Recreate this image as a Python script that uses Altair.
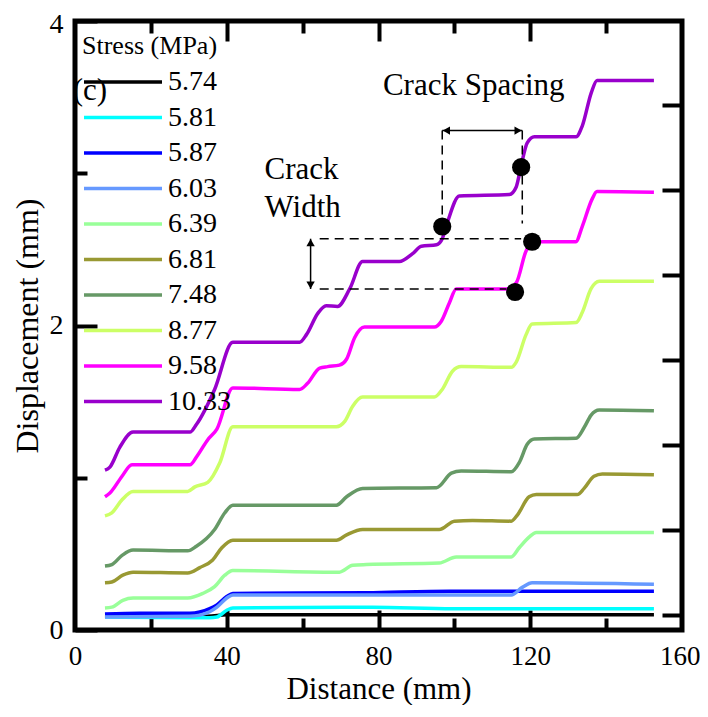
import altair as alt
import pandas as pd

W, H = 607, 609
FONT = "Liberation Serif"

stress = ["5.74", "5.81", "5.87", "6.03", "6.39", "6.81", "7.48", "8.77", "9.58", "10.33"]
colors = ["#000000", "#00FFFF", "#0000FF", "#6699FF", "#99FF99",
          "#999933", "#669966", "#CCFF66", "#FF00FF", "#9900CC"]

x_574 = [7.9, 35, 40, 152.6]
y_574 = [0.09, 0.09, 0.10, 0.10]
x_581 = [7.9, 35.5, 37.4, 40, 41.6, 78.4, 99.5, 152.6]
y_581 = [0.085, 0.08, 0.085, 0.13, 0.145, 0.15, 0.14, 0.14]
x_587 = [7.9, 17, 30.3, 35.5, 37.4, 40, 41.6, 76.8, 98.7, 152.6]
y_587 = [0.105, 0.11, 0.11, 0.14, 0.165, 0.22, 0.24, 0.245, 0.255, 0.255]
x_603 = [7.9, 30.3, 35.5, 37.4, 40, 41.6, 115, 117.9, 120.5, 152.6]
y_603 = [0.085, 0.09, 0.12, 0.15, 0.21, 0.23, 0.23, 0.28, 0.31, 0.30]
x_639 = [7.9, 9.7, 12.6, 15.3, 29.7, 33.7, 36.8, 39.5, 41.6, 69.7, 73.2, 76.8,
         96, 100.5, 104.8, 115, 117.1, 119.7, 121.6, 152.6]
y_639 = [0.145, 0.15, 0.195, 0.21, 0.21, 0.24, 0.285, 0.36, 0.39, 0.38, 0.425, 0.43,
         0.44, 0.48, 0.48, 0.48, 0.54, 0.61, 0.64, 0.64]
x_681 = [7.9, 9.7, 12.6, 15.3, 29.7, 32.9, 36.3, 38.7, 41.6, 68.9, 71.6, 75.8,
         96, 100, 104.8, 115, 116.6, 119.7, 121.6, 132.4, 134.2, 136.8, 139, 152.6]
y_681 = [0.31, 0.315, 0.36, 0.38, 0.375, 0.41, 0.46, 0.54, 0.59, 0.59, 0.625, 0.66,
         0.66, 0.715, 0.72, 0.715, 0.755, 0.875, 0.89, 0.89, 0.93, 1.01, 1.025, 1.02]
x_748 = [7.9, 9.7, 12.4, 15.3, 29.7, 32, 36.8, 39.5, 41.6, 68.9, 71.6, 75.8,
         95.3, 99.2, 101.8, 115, 117.1, 119.2, 121.1, 132.1, 134.2, 136, 138.2, 152.6]
y_748 = [0.42, 0.43, 0.49, 0.525, 0.52, 0.55, 0.66, 0.77, 0.82, 0.82, 0.875, 0.93,
         0.935, 1.03, 1.045, 1.04, 1.10, 1.22, 1.255, 1.26, 1.33, 1.41, 1.445, 1.44]
x_877 = [7.9, 9.7, 12.4, 15.3, 29.7, 31.6, 35, 38.2, 41.6, 68.9, 71.1, 73.2, 75.8,
         94.7, 96.8, 99.5, 101.8, 115, 116.3, 118.9, 120.5, 132.1, 133.7, 136, 138.2, 152.6]
y_877 = [0.75, 0.77, 0.855, 0.91, 0.91, 0.94, 0.97, 1.10, 1.335, 1.335, 1.37, 1.47, 1.53,
         1.53, 1.58, 1.70, 1.73, 1.725, 1.76, 1.94, 2.01, 2.02, 2.085, 2.24, 2.29, 2.29]
x_958 = [7.9, 9.2, 12.4, 15, 30.3, 32.1, 35, 37.4, 41.6, 59.2, 61.3, 64.5, 66.6, 69.7,
         71.6, 73.7, 76.3, 94.7, 96.6, 98.7, 100.5, 113.7, 116.3, 118.9, 121, 132,
         133.7, 136.3, 137.6, 152.6]
y_958 = [0.875, 0.90, 1.01, 1.085, 1.085, 1.14, 1.25, 1.32, 1.59, 1.58, 1.62, 1.72, 1.73, 1.74,
         1.78, 1.92, 1.99, 1.99, 2.03, 2.15, 2.24, 2.24, 2.28, 2.49, 2.55, 2.55,
         2.65, 2.83, 2.88, 2.875]
x_1033 = [7.9, 9.2, 11.8, 15.3, 30.3, 32, 36.8, 41.6, 59.2, 61, 64, 66.2, 69.2, 72.4,
          75.8, 85.5, 88.9, 91.3, 95.3, 96.8, 98.2, 101.3, 114.5, 116.3, 117.6, 119.2,
          121.1, 132.1, 133.7, 136.1, 137.6, 152.6]
y_1033 = [1.05, 1.07, 1.20, 1.30, 1.30, 1.35, 1.58, 1.89, 1.89, 1.94, 2.08, 2.13, 2.125, 2.24,
          2.42, 2.42, 2.47, 2.52, 2.53, 2.57, 2.68, 2.85, 2.86, 2.91, 3.05, 3.20,
          3.24, 3.24, 3.31, 3.53, 3.61, 3.61]

series_x = [x_574, x_581, x_587, x_603, x_639, x_681, x_748, x_877, x_958, x_1033]
series_y = [y_574, y_581, y_587, y_603, y_639, y_681, y_748, y_877, y_958, y_1033]

# annotation values (data units)
dot_x = [96.8, 117.6, 120.5, 116.0]
dot_y = [2.65, 3.04, 2.55, 2.22]
dash_x1 = [96.8, 117.9, 64.5, 64.5]
dash_x2 = [96.8, 117.9, 117.6, 113.7]
dash_y1 = [3.28, 3.28, 2.57, 2.24]
dash_y2 = [2.63, 2.67, 2.57, 2.24]
arrow_x1 = [96.8, 62.1]
arrow_x2 = [117.9, 62.1]
arrow_y1 = [3.28, 2.57]
arrow_y2 = [3.28, 2.24]
head_x = [97.9, 116.8, 62.1, 62.1]
head_y = [3.28, 3.28, 2.545, 2.265]
head_shape = ["triangle-left", "triangle-right", "triangle-up", "triangle-down"]
label_text = ["Crack Spacing", "Crack", "Width"]
label_x = [105.1, 59.7, 60.0]
label_y = [3.57, 3.02, 2.77]
panel_text = ["(c)"]
panel_x = [3.95]
panel_y = [3.54]

x_labels = [0, 40, 80, 120, 160]
x_minor = [20, 40, 60, 80, 100, 120, 140]
y_labels = [0, 2, 4]
y_minor = [0, 1, 2, 3, 4]
right_ticks = [0, 1, 2, 3, 4, 5, 6]
right_domain = [-0.1765, 6.988]

rows = []
for s, xs, ys in zip(stress, series_x, series_y):
    for i, (a, b) in enumerate(zip(xs, ys)):
        rows.append({"stress": s, "x": a, "y": b, "i": i})
df = pd.DataFrame(rows)

xs_main = alt.Scale(domain=[0, 160], nice=False, zero=False)
ys_main = alt.Scale(domain=[0, 4], nice=False, zero=False)

x_last_align = {"condition": {"test": "datum.value === 160", "value": "right"}, "value": "center"}
x_last_off = {"condition": {"test": "datum.value === 160", "value": 18}, "value": 0}
y_top_off = {"condition": {"test": "datum.value === 4", "value": 3}, "value": 0}

lines = alt.Chart(df).mark_line(strokeWidth=3.5, interpolate="monotone").encode(
    x=alt.X("x:Q", scale=xs_main,
            axis=alt.Axis(values=x_labels, ticks=False, domain=False, grid=False,
                          labelFont=FONT, labelFontSize=27, labelPadding=13,
                          labelFlush=False, labelAlign=x_last_align, labelOffset=x_last_off,
                          title="Distance (mm)", titleFont=FONT, titleFontSize=31,
                          titleFontWeight="normal",
                          titleBaseline="alphabetic", titleY=68)),
    y=alt.Y("y:Q", scale=ys_main,
            axis=alt.Axis(values=y_labels, ticks=False, domain=False, grid=False,
                          labelFont=FONT, labelFontSize=28, labelPadding=12,
                          labelFlush=False, labelOffset=y_top_off,
                          title="Displacement (mm)", titleFont=FONT, titleFontSize=32,
                          titleFontWeight="normal", titleBaseline="middle", titleX=-48)),
    color=alt.Color("stress:N", scale=alt.Scale(domain=stress, range=colors),
                    legend=alt.Legend(title="Stress (MPa)", orient="none", legendX=7,
                                      legendY=12, symbolType="stroke",
                                      symbolSize=78 * 78, symbolStrokeWidth=3.5,
                                      clipHeight=28, rowPadding=7.5, labelFontSize=28,
                                      labelFont=FONT, titleFont=FONT, titleFontSize=26,
                                      titleFontWeight="normal", titlePadding=9,
                                      labelOffset=4, padding=0, labelLimit=200,
                                      labelColor="black", titleColor="black")),
    detail="stress:N",
)

noax_x = alt.X("x:Q", scale=xs_main, axis=None)
noax_y = alt.Y("y:Q", scale=ys_main, axis=None)

dash_df = pd.DataFrame({"x": dash_x1, "x2": dash_x2, "y": dash_y1, "y2": dash_y2})
dashes = alt.Chart(dash_df).mark_rule(strokeDash=[9, 6], strokeWidth=1.5, color="black").encode(
    x=noax_x, x2="x2:Q", y=noax_y, y2="y2:Q")

arr_df = pd.DataFrame({"x": arrow_x1, "x2": arrow_x2, "y": arrow_y1, "y2": arrow_y2})
arrows = alt.Chart(arr_df).mark_rule(strokeWidth=1.5, color="black").encode(
    x=noax_x, x2="x2:Q", y=noax_y, y2="y2:Q")

head_df = pd.DataFrame({"x": head_x, "y": head_y, "shape": head_shape})
heads = alt.Chart(head_df).mark_point(filled=True, color="black", size=70, opacity=1).encode(
    x=noax_x, y=noax_y, shape=alt.Shape("shape:N", scale=None))

dot_df = pd.DataFrame({"x": dot_x, "y": dot_y})
dots = alt.Chart(dot_df).mark_circle(size=330, color="black", opacity=1).encode(
    x=noax_x, y=noax_y)

lab_df = pd.DataFrame({"x": label_x, "y": label_y, "t": label_text})
labels = alt.Chart(lab_df).mark_text(font=FONT, fontSize=31, color="black",
                                     align="center", baseline="middle").encode(
    x=noax_x, y=noax_y, text="t:N")

pan_df = pd.DataFrame({"x": panel_x, "y": panel_y, "t": panel_text})
panel = alt.Chart(pan_df).mark_text(font=FONT, fontSize=31, color="black",
                                    align="center", baseline="middle").encode(
    x=noax_x, y=noax_y, text="t:N")

major_x = {"condition": {"test": "datum.value % 40 === 0", "value": 20}, "value": 12}
major_y = {"condition": {"test": "datum.value % 2 === 0", "value": 22}, "value": 12}

inner_ticks = alt.Chart(df).mark_point(opacity=0).encode(
    x=alt.X("x:Q", scale=xs_main, title=None,
            axis=alt.Axis(orient="top", offset=-H, values=x_minor, labels=False,
                          domain=False, grid=False, ticks=True, tickWidth=4,
                          tickSize=major_x, tickColor="black")),
    y=alt.Y("y:Q", scale=ys_main, title=None,
            axis=alt.Axis(orient="right", offset=-W, values=y_minor, labels=False,
                          domain=False, grid=False, ticks=True, tickWidth=4,
                          tickSize=major_y, tickColor="black")),
)

main = alt.layer(lines, dashes, arrows, heads, dots, labels, panel, inner_ticks).resolve_axis(
    x="independent", y="independent")

outer_ticks = alt.Chart(df).mark_point(opacity=0).encode(
    x=alt.X("x:Q", scale=xs_main, title=None,
            axis=alt.Axis(orient="bottom", offset=-H, values=x_minor, labels=False,
                          domain=False, grid=False, ticks=True, tickWidth=4,
                          tickSize=major_x, tickColor="black")),
    y=alt.Y("y:Q", scale=alt.Scale(domain=right_domain, nice=False, zero=False), title=None,
            axis=alt.Axis(orient="left", offset=-W, values=right_ticks, labels=False,
                          domain=False, grid=False, ticks=True, tickWidth=4,
                          tickSize=20, tickColor="black")),
)

chart = alt.layer(main, outer_ticks).resolve_scale(y="independent").resolve_axis(
    x="independent", y="independent"
).properties(
    width=W, height=H,
    padding={"left": 67, "top": 13, "right": 18, "bottom": 75},
    autosize=alt.AutoSizeParams(type="none"),
).configure(
    font=FONT
).configure_view(
    stroke="black", strokeWidth=5
).configure_axis(
    labelFont=FONT, titleFont=FONT, labelColor="black", titleColor="black"
).configure_legend(
    labelFont=FONT, titleFont=FONT
)

chart.save("out.html", embed_options={"renderer": "svg", "actions": False})
